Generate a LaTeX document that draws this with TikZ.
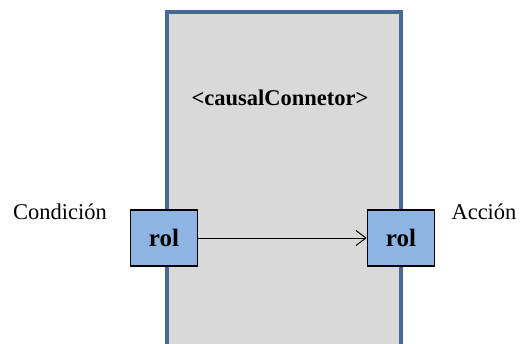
\documentclass[tikz,border=0pt]{standalone}
\usepackage{fontspec}
\setmainfont{Liberation Serif}
\usetikzlibrary{arrows.meta}
\definecolor{marco}{RGB}{74,104,150}
\definecolor{gris}{RGB}{217,217,217}
\definecolor{azul}{RGB}{141,180,226}
\begin{document}
\begin{tikzpicture}[x=1pt,y=-1pt,
	rol/.style={draw=black,line width=1.4pt,fill=azul,minimum width=67pt,minimum height=56pt,inner sep=0pt,font=\fontsize{25}{25}\selectfont\bfseries},
	etiqueta/.style={inner sep=0pt,font=\fontsize{22.5}{22.5}\selectfont}]
		\clip (0,0) rectangle (527,343);
		\draw[marco,line width=4pt,fill=gris,line join=miter] (167,380)--(167,12)--(401,12)--(401,380);
		\node[font=\fontsize{22.5}{22.5}\selectfont\bfseries] (titulo) at (280,98) {<causalConnetor>};
		\node[rol] (rolA) at (164,238) {rol};
		\node[rol] (rolB) at (401,238) {rol};
		\node[etiqueta] (cond) at (60,212) {Condición};
		\node[etiqueta] (acc) at (484,212) {Acción};
		\draw[line width=1pt,-{Straight Barb[length=10pt,width=15pt,line width=1pt]}] (rolA) -- (rolB);
		\end{tikzpicture}
\end{document}
